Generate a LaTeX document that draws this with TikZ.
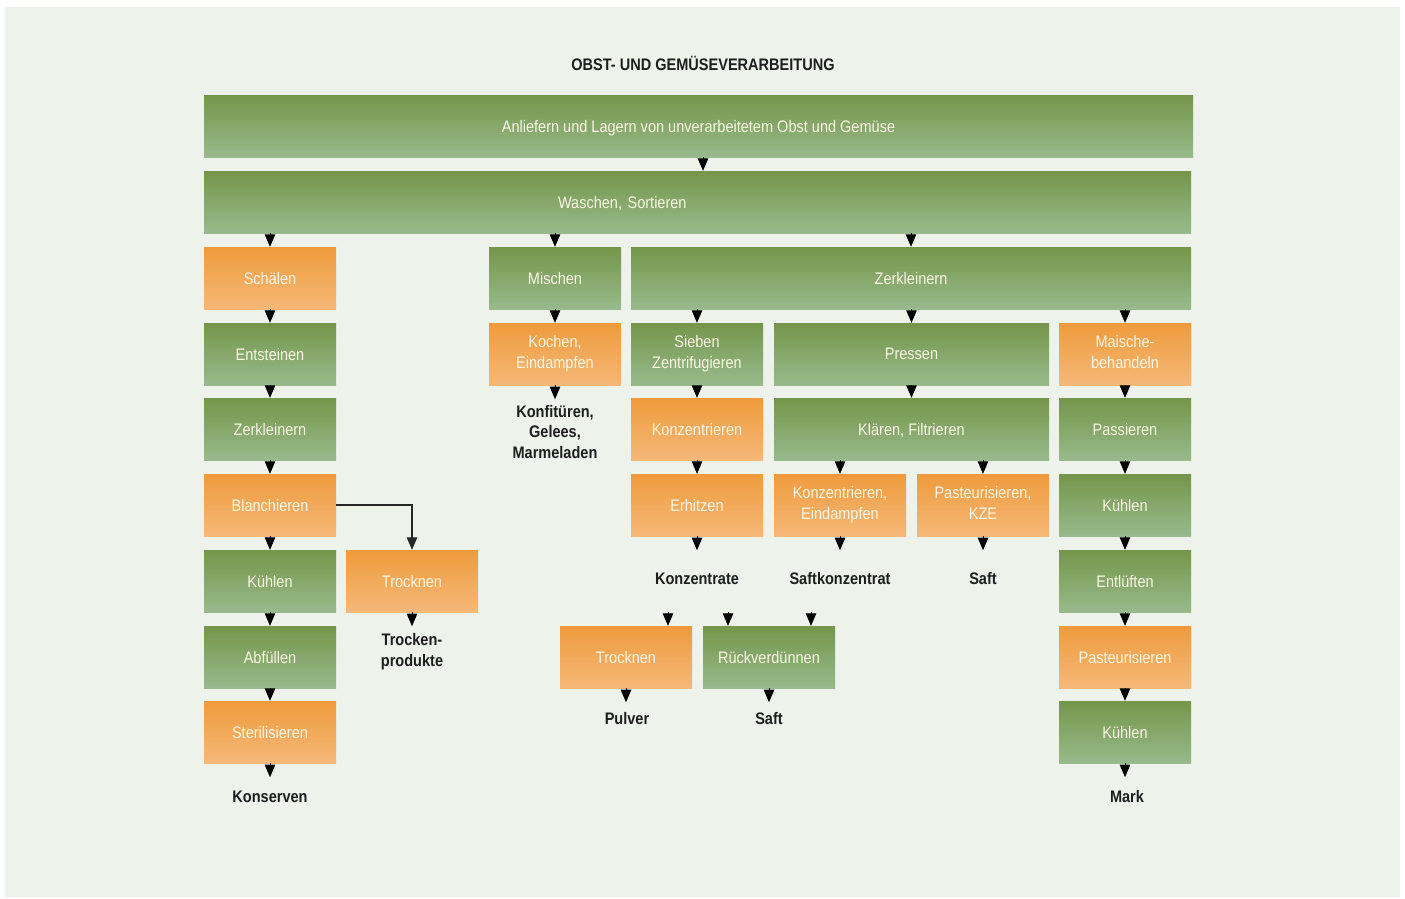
\documentclass[tikz,border=0pt]{standalone}
\usepackage{fontspec}
\usetikzlibrary{arrows.meta}
\newfontfamily\condfont{Liberation Sans}[FakeStretch=0.87]

\definecolor{pagebg}{RGB}{237,242,234}
\definecolor{gTop}{RGB}{116,150,74}
\definecolor{gBot}{RGB}{152,186,140}
\definecolor{oTop}{RGB}{239,155,60}
\definecolor{oBot}{RGB}{245,184,120}
\definecolor{boxtext}{RGB}{250,246,228}
\definecolor{lbltext}{RGB}{30,30,30}

\tikzset{
  box/.style={rectangle, draw=none, minimum height=62pt, minimum width=132pt,
    inner sep=0pt, align=center, text=boxtext, text depth=0pt,
    font=\condfont\fontsize{16.7}{21}\selectfont},
  twoline/.style={text depth=4pt},
  gbox/.style={box, top color=gTop, bottom color=gBot},
  obox/.style={box, top color=oTop, bottom color=oBot},
  lbl/.style={inner sep=0pt, align=center, text=lbltext,
    font=\condfont\bfseries\fontsize{16.7}{20.7}\selectfont},
  arr/.style={-{Triangle[width=10.5pt,length=12.5pt]}, line width=0.9pt, black},
  feed/.style={-{Triangle[width=10.5pt,length=12.5pt]}, line width=1.2pt, black!85}
}

\begin{document}
\begin{tikzpicture}[x=1pt,y=-1pt]
\useasboundingbox (0,0) rectangle (1405,899);
\fill[white] (0,0) rectangle (1405,899);
\fill[pagebg] (5,7) rectangle (1400,897);

\node[lbl] (title) at (703,63) {OBST- UND GEMÜSEVERARBEITUNG};

% full-width stages
\node[gbox, minimum width=989pt] (anliefern) at (698.5,126) {Anliefern und Lagern von unverarbeitetem Obst und Gemüse};
\node[gbox, minimum width=987pt, text width=987pt, align=left] (waschen) at (697.5,202) {\hspace*{354pt}Waschen, Sortieren};

% canned goods line
\node[obox] (schaelen) at (270,278) {Schälen};
\node[gbox] (entsteinen) at (270,354) {Entsteinen};
\node[gbox] (zerklA) at (270,429) {Zerkleinern};
\node[obox] (blanch) at (270,505) {Blanchieren};
\node[gbox] (kuehlA) at (270,581) {Kühlen};
\node[gbox] (abfuellen) at (270,657) {Abfüllen};
\node[obox] (steril) at (270,732) {Sterilisieren};
\node[lbl] (konserven) at (270,797) {Konserven};

% drying branch
\node[obox] (trocknenA) at (412,581) {Trocknen};
\node[lbl] (trockenprod) at (412,652) {Trocken-\\produkte};

% jam line
\node[gbox] (mischen) at (555,278) {Mischen};
\node[obox, twoline] (kochen) at (555,354) {Kochen,\\Eindampfen};
\node[lbl] (konfi) at (555,432) {Konfitüren,\\Gelees,\\Marmeladen};

% juice lines
\node[gbox, minimum width=560pt] (zerklB) at (911,278) {Zerkleinern};
\node[gbox, twoline] (sieben) at (697,354) {Sieben\\Zentrifugieren};
\node[obox] (konzA) at (697,429) {Konzentrieren};
\node[obox] (erhitzen) at (697,505) {Erhitzen};
\node[lbl] (konzentrate) at (697,579) {Konzentrate};

\node[gbox, minimum width=275pt] (pressen) at (911.5,354) {Pressen};
\node[gbox, minimum width=275pt] (klaeren) at (911.5,429) {Klären, Filtrieren};
\node[obox, twoline] (konzB) at (840,505) {Konzentrieren,\\Eindampfen};
\node[obox, twoline] (pasteurB) at (983,505) {Pasteurisieren,\\KZE};
\node[lbl] (saftkonz) at (840,579) {Saftkonzentrat};
\node[lbl] (saftA) at (983,579) {Saft};

\node[obox] (trocknenB) at (626,657) {Trocknen};
\node[gbox] (rueck) at (769,657) {Rückverdünnen};
\node[lbl] (pulver) at (627,719) {Pulver};
\node[lbl] (saftB) at (769,719) {Saft};

% pulp line
\node[obox, twoline] (maische) at (1125,354) {Maische-\\behandeln};
\node[gbox] (passieren) at (1125,429) {Passieren};
\node[gbox] (kuehlF1) at (1125,505) {Kühlen};
\node[gbox] (entlueften) at (1125,581) {Entlüften};
\node[obox] (pasteurF) at (1125,657) {Pasteurisieren};
\node[gbox] (kuehlF2) at (1125,732) {Kühlen};
\node[lbl] (mark) at (1127,797) {Mark};

% connectors
\draw[arr] ([xshift=4.5pt]anliefern.south) -- ([xshift=4.5pt]anliefern.south |- waschen.north);
\draw[arr] (waschen.south -| schaelen) -- (schaelen.north);
\draw[arr] (waschen.south -| mischen) -- (mischen.north);
\draw[arr] (waschen.south -| zerklB) -- (zerklB.north);

\draw[arr] (schaelen.south) -- (entsteinen.north);
\draw[arr] (entsteinen.south) -- (zerklA.north);
\draw[arr] (zerklA.south) -- (blanch.north);
\draw[arr] (blanch.south) -- (kuehlA.north);
\draw[arr] (kuehlA.south) -- (abfuellen.north);
\draw[arr] (abfuellen.south) -- (steril.north);
\draw[arr] (steril.south) -- ([yshift=-14pt]steril.south);
\draw[feed] (blanch.east) -| (trocknenA.north);
\draw[arr] (trocknenA.south) -- ([yshift=-14pt]trocknenA.south);

\draw[arr] (mischen.south) -- (kochen.north);
\draw[arr] (kochen.south) -- ([yshift=-14pt]kochen.south);

\draw[arr] (zerklB.south -| sieben) -- (sieben.north);
\draw[arr] (zerklB.south -| pressen) -- (pressen.north);
\draw[arr] (zerklB.south -| maische) -- (maische.north);

\draw[arr] (sieben.south) -- (konzA.north);
\draw[arr] (konzA.south) -- (erhitzen.north);
\draw[arr] (erhitzen.south) -- ([yshift=-14pt]erhitzen.south);

\draw[arr] (pressen.south) -- (klaeren.north);
\draw[arr] (klaeren.south -| konzB) -- (konzB.north);
\draw[arr] (klaeren.south -| pasteurB) -- (pasteurB.north);
\draw[arr] (konzB.south) -- ([yshift=-14pt]konzB.south);
\draw[arr] (pasteurB.south) -- ([yshift=-14pt]pasteurB.south);

\draw[arr] ([xshift=42pt,yshift=14pt]trocknenB.north) -- ([xshift=42pt]trocknenB.north);
\draw[arr] ([xshift=-41pt,yshift=14pt]rueck.north) -- ([xshift=-41pt]rueck.north);
\draw[arr] ([xshift=42pt,yshift=14pt]rueck.north) -- ([xshift=42pt]rueck.north);
\draw[arr] (trocknenB.south) -- ([yshift=-14pt]trocknenB.south);
\draw[arr] (rueck.south) -- ([yshift=-14pt]rueck.south);

\draw[arr] (maische.south) -- (passieren.north);
\draw[arr] (passieren.south) -- (kuehlF1.north);
\draw[arr] (kuehlF1.south) -- (entlueften.north);
\draw[arr] (entlueften.south) -- (pasteurF.north);
\draw[arr] (pasteurF.south) -- (kuehlF2.north);
\draw[arr] (kuehlF2.south) -- ([yshift=-14pt]kuehlF2.south);
\end{tikzpicture}
\end{document}
